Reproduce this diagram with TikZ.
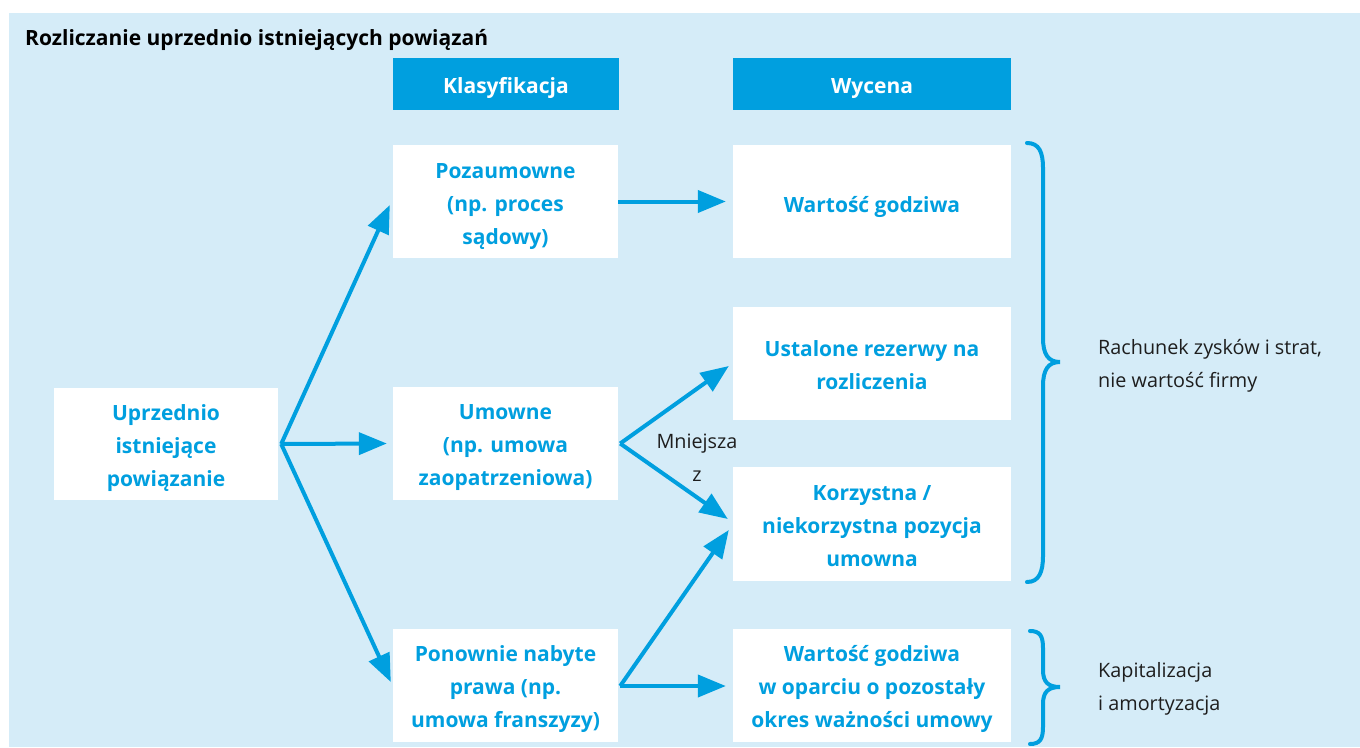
\documentclass[tikz,border=0pt]{standalone}
\usepackage{fontspec}
\setmainfont{Open Sans}
\usetikzlibrary{arrows.meta}
\definecolor{bg}{RGB}{213,236,248}
\definecolor{accent}{RGB}{0,159,223}
\definecolor{txt}{RGB}{30,30,30}
\begin{document}
\begin{tikzpicture}[x=1pt,y=-1pt,
  box/.style={fill=white, inner sep=0pt},
  narrow/.style={box, minimum width=225pt, minimum height=113pt},
  wide/.style={box, minimum width=278pt, minimum height=113pt},
  lbl/.style={inner sep=0pt, align=center, text=accent,
    font=\fontsize{21}{33}\selectfont\bfseries,
    execute at begin node={\rule{0pt}{21pt}}},
  head/.style={fill=accent, text=white, inner sep=0pt, minimum height=52pt,
    text height=19pt, text depth=0pt,
    font=\fontsize{21}{26}\selectfont\bfseries},
  arr/.style={draw=accent, line width=4pt, -{Triangle[length=28pt,width=22pt]}},
  brace/.style={draw=accent, line width=4pt, line cap=round},
  note/.style={text=txt, align=left, inner sep=0pt, font=\fontsize{19.8}{33}\selectfont}]
\useasboundingbox (0,0) rectangle (1360,747);
\fill[bg] (9,13) rectangle (1360,747);

% title
\node[anchor=base west, inner sep=0pt, font=\fontsize{21}{26}\selectfont\bfseries]
  (title) at (25,45) {Rozliczanie uprzednio istniejących powiązań};

% column headers
\node[head, minimum width=226pt] (hk) at (506,84) {Klasyfikacja};
\node[head, minimum width=278pt] (hw) at (872,84) {Wycena};

% white boxes
\node[box, minimum width=224pt, minimum height=112pt] (up) at (166,444) {};
\node[narrow] (poz) at (505.5,201.5) {};
\node[narrow] (um)  at (505.5,443.5) {};
\node[narrow] (pon) at (505.5,685.5) {};
\node[wide] (wg)  at (872,201.5) {};
\node[wide] (ust) at (872,363.5) {};
\node[wide, minimum height=114pt] (kor) at (872,524) {};
\node[wide] (wg2) at (872,685.5) {};

% box texts
\node[lbl] (up-t)  at ([yshift=-4pt]up.center)    {Uprzednio\\istniejące\\powiązanie};
\node[lbl] (poz-t) at ([yshift=-5pt]poz.center)   {Pozaumowne\\(np. proces\\sądowy)};
\node[lbl] (um-t)  at ([yshift=-4.5pt]um.center)  {Umowne\\(np. umowa\\zaopatrzeniowa)};
\node[lbl] (pon-t) at ([yshift=-3.5pt]pon.center) {Ponownie nabyte\\prawa (np.\\umowa franszyzy)};
\node[lbl] (wg-t)  at ([yshift=-3pt]wg.center)    {Wartość godziwa};
\node[lbl] (ust-t) at ([yshift=-2pt]ust.center)   {Ustalone rezerwy na\\rozliczenia};
\node[lbl] (kor-t) at ([yshift=-2pt]kor.center)   {Korzystna /\\niekorzystna pozycja\\umowna};
\node[lbl] (wg2-t) at ([yshift=-3.5pt]wg2.center) {Wartość godziwa\\w oparciu o pozostały\\okres ważności umowy};

% branch points
\coordinate (j1) at ([xshift=3pt]up.east);
\coordinate (j2) at ([xshift=2pt]um.east);
\coordinate (j3) at ([xshift=2pt,yshift=-0.5pt]pon.east);

% connectors
\draw[arr] (j1) -- ([xshift=-3pt,yshift=-3.5pt]poz.west);
\draw[arr] (j1) -- ([xshift=-6pt]um.west);
\draw[arr] (j1) -- ([xshift=-2pt,yshift=3.5pt]pon.west);
\draw[arr] (poz.east) -- ([xshift=-7pt]wg.west);
\draw[arr] (j2) -- ([xshift=-4pt,yshift=-2.5pt]ust.west);
\draw[arr] (j2) -- ([xshift=-5pt,yshift=5pt]kor.west);
\draw[arr] (j3) -- ([xshift=-4pt,yshift=-6pt]kor.west);
\draw[arr] (j3) -- ([xshift=-7pt,yshift=-0.5pt]wg2.west);

\node[note, align=center] (mz) at (697,458) {Mniejsza\\z};

% braces
\draw[brace] (1027,143) .. controls (1039,143) and (1043,152) .. (1043,168)
  -- (1043,338) .. controls (1043,354) and (1048,362) .. (1060,362)
  .. controls (1048,362) and (1043,370) .. (1043,386)
  -- (1043,556) .. controls (1043,572) and (1039,582) .. (1027,582);
\draw[brace] (1030,631) .. controls (1040,631) and (1043,636) .. (1043,648)
  -- (1043,670) .. controls (1043,682) and (1048,687) .. (1060,687)
  .. controls (1048,687) and (1043,692) .. (1043,704)
  -- (1043,727) .. controls (1043,739) and (1040,744) .. (1030,744);

\node[note, anchor=west] (pl) at (1098,366) {Rachunek zysków i strat,\\nie wartość firmy};
\node[note, anchor=west] (ka) at (1098,689) {Kapitalizacja\\i amortyzacja};
\end{tikzpicture}
\end{document}
